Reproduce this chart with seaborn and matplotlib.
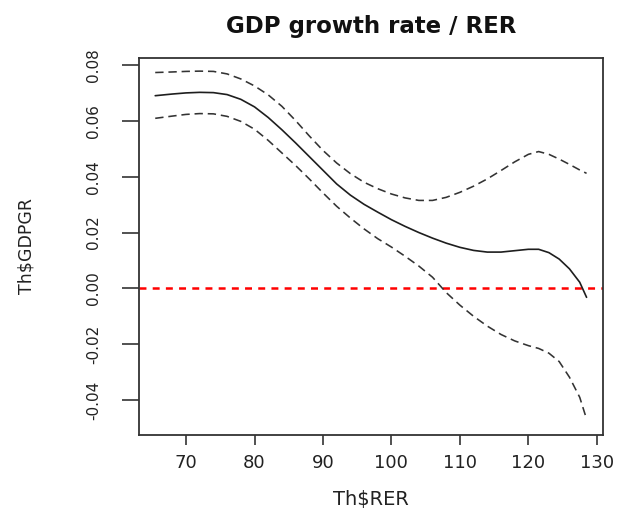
import matplotlib
matplotlib.use("Agg")
import matplotlib.pyplot as plt
import seaborn as sns
import pandas as pd

# Smoothed effect of the real exchange rate on GDP growth, with its confidence band
rer = [65.5, 68, 70, 72, 74, 76, 78, 80, 82, 84, 86, 88, 90, 92, 94, 96, 98, 100,
       102, 104, 106, 108, 110, 112, 114, 116, 118, 120, 121.5, 123, 124.5, 126,
       127.5, 128.5]
fit = [0.0690, 0.0696, 0.0700, 0.0702, 0.0701, 0.0694, 0.0677, 0.0650, 0.0612,
       0.0568, 0.0521, 0.0472, 0.0423, 0.0374, 0.0334, 0.0301, 0.0273, 0.0246,
       0.0222, 0.0200, 0.0180, 0.0162, 0.0147, 0.0136, 0.0130, 0.0130, 0.0135,
       0.0140, 0.0140, 0.0128, 0.0105, 0.0070, 0.0022, -0.0032]
upper = [0.0773, 0.0775, 0.0777, 0.0778, 0.0777, 0.0768, 0.0750, 0.0725, 0.0693,
         0.0652, 0.0601, 0.0546, 0.0494, 0.0449, 0.0411, 0.0380, 0.0357, 0.0338,
         0.0324, 0.0315, 0.0315, 0.0326, 0.0344, 0.0366, 0.0392, 0.0422, 0.0453,
         0.0480, 0.0490, 0.0480, 0.0463, 0.0444, 0.0424, 0.0412]
lower = [0.0609, 0.0617, 0.0623, 0.0626, 0.0625, 0.0616, 0.0598, 0.0570, 0.0530,
         0.0485, 0.0440, 0.0392, 0.0342, 0.0294, 0.0252, 0.0213, 0.0178, 0.0148,
         0.0115, 0.0080, 0.0040, -0.0015, -0.0060, -0.0100, -0.0135, -0.0165,
         -0.0188, -0.0205, -0.0215, -0.0232, -0.0262, -0.0318, -0.0390, -0.0468]

x_ticks = [70, 80, 90, 100, 110, 120, 130]
y_ticks = [-0.04, -0.02, 0.00, 0.02, 0.04, 0.06, 0.08]
y_tick_labels = ["-0.04", "-0.02", "0.00", "0.02", "0.04", "0.06", "0.08"]

df = pd.DataFrame({"RER": rer, "fit": fit, "upper": upper, "lower": lower})

sns.set_style("white")
plt.rcParams["font.family"] = ["DejaVu Sans"]
plt.rcParams["lines.scale_dashes"] = False

fig = plt.figure(figsize=(6.22, 5.16), dpi=100)
ax = fig.add_axes([139 / 622, 1 - 435 / 516, (603 - 139) / 622, (435 - 58) / 516])

ax.axhline(0, color="#ff0000", lw=1.8, linestyle=(0, (5, 4.5)), zorder=1)
sns.lineplot(data=df, x="RER", y="upper", ax=ax, color="#333333", lw=1.15,
             linestyle=(0, (6, 3.5)))
sns.lineplot(data=df, x="RER", y="lower", ax=ax, color="#333333", lw=1.15,
             linestyle=(0, (6, 3.5)))
sns.lineplot(data=df, x="RER", y="fit", ax=ax, color="#1e1e1e", lw=1.2)

ax.set_xlim(63.13, 130.9)
ax.set_ylim(-0.0525, 0.0825)

ax.set_xticks(x_ticks)
ax.set_xticklabels([str(t) for t in x_ticks], fontsize=13, color="#222222")
ax.set_yticks(y_ticks)
ax.set_yticklabels(y_tick_labels, fontsize=11, color="#222222",
                   rotation=90, va="center")

ax.tick_params(axis="x", direction="out", length=7.5, width=1.2, color="#333333",
               pad=6, bottom=True)
ax.tick_params(axis="y", direction="out", length=12.5, width=1.2, color="#333333",
               pad=15, left=True)

for side in ["left", "right", "top", "bottom"]:
    ax.spines[side].set_visible(True)
    ax.spines[side].set_color("#333333")
    ax.spines[side].set_linewidth(1.3)

ax.set_xlabel("Th$RER", fontsize=14, color="#222222")
ax.xaxis.set_label_coords(0.5, -0.145)
ax.set_ylabel("Th$GDPGR", fontsize=12.5, color="#222222")
ax.yaxis.set_label_coords(-0.224, 0.50)

fig.text(371 / 622, 1 - 26 / 516, "GDP growth rate / RER", ha="center", va="center",
         fontsize=16.5, fontweight="bold", color="#111111")

fig.savefig("out.png", dpi=100, facecolor="white")
